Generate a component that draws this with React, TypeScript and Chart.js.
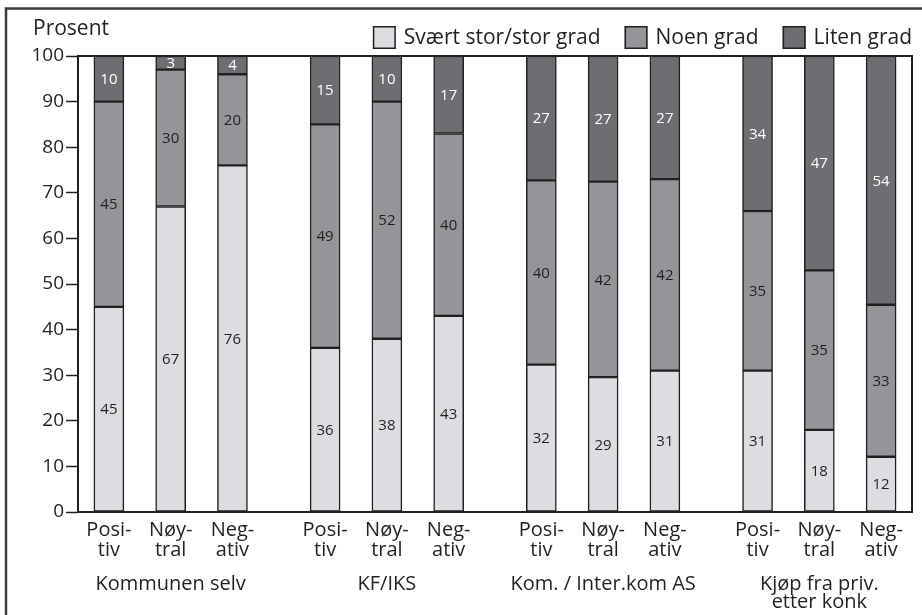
import React, { useEffect, useRef } from 'react';
import { Chart, registerables } from 'chart.js';

Chart.register(...registerables);

// ---------- data ----------
const groupLabels: (string | string[])[] = [
  'Kommunen selv',
  'KF/IKS',
  'Kom. / Inter.kom AS',
  ['Kjøp fra priv.', 'etter konk'],
];
const barLabels: string[][] = [
  ['Posi-', 'tiv'],
  ['Nøy-', 'tral'],
  ['Neg-', 'ativ'],
];
const seriesNames = ['Svært stor/stor grad', 'Noen grad', 'Liten grad'];
const storGrad = [45, 67, 76, 36, 38, 43, 32, 29, 31, 31, 18, 12];
const noenGrad = [45, 30, 20, 49, 52, 40, 40, 42, 42, 35, 35, 33];
const litenGrad = [10, 3, 4, 15, 10, 17, 27, 27, 27, 34, 47, 54];
const yTickValues = [0, 10, 20, 30, 40, 50, 60, 70, 80, 90, 100];
const yTitle = 'Prosent';

// ---------- styles ----------
const FONT = '"Open Sans", "Noto Sans", sans-serif';
const INK = '#231f20';
const COLORS = ['#dcdde0', '#939598', '#6d6e71'];
const LABEL_COLORS = [INK, INK, '#ffffff'];
const GROUP_STEP = 3.5;

const series = [storGrad, noenGrad, litenGrad];
const barsPerGroup = barLabels.length;
const barPositions: number[] = [];
groupLabels.forEach((_, g) => {
  for (let i = 0; i < barsPerGroup; i++) barPositions.push(g * GROUP_STEP + i);
});
const groupCenters = groupLabels.map((_, g) => g * GROUP_STEP + (barsPerGroup - 1) / 2);
const stackTotals = storGrad.map((_, i) => series.reduce((s, arr) => s + arr[i], 0));

const xMin = -0.5;
const xMax = barPositions[barPositions.length - 1] + 0.5;

const framePlugin = {
  id: 'frame',
  beforeDraw(chart: any) {
    const ctx = chart.ctx;
    ctx.save();
    ctx.strokeStyle = '#3a3a3a';
    ctx.lineWidth = 2.5;
    ctx.beginPath();
    ctx.moveTo(6, chart.height + 2);
    ctx.lineTo(6, 8.5);
    ctx.lineTo(chart.width + 2, 8.5);
    ctx.stroke();
    ctx.restore();
  },
  afterDatasetsDraw(chart: any) {
    const { ctx, chartArea } = chart;
    ctx.save();
    ctx.strokeStyle = INK;
    ctx.lineWidth = 2;
    ctx.beginPath();
    ctx.moveTo(chartArea.left, chartArea.top);
    ctx.lineTo(chartArea.right, chartArea.top);
    ctx.lineTo(chartArea.right, chartArea.bottom);
    ctx.stroke();
    ctx.restore();
  },
};

const valueLabelPlugin = {
  id: 'valueLabels',
  afterDatasetsDraw(chart: any) {
    const ctx = chart.ctx;
    ctx.save();
    ctx.font = `15px ${FONT}`;
    ctx.textAlign = 'center';
    ctx.textBaseline = 'middle';
    chart.data.datasets.forEach((ds: any, di: number) => {
      const meta = chart.getDatasetMeta(di);
      meta.data.forEach((el: any, i: number) => {
        const { x, y, base } = el.getProps(['x', 'y', 'base'], true);
        ctx.fillStyle = LABEL_COLORS[di];
        ctx.fillText(String(series[di][i]), x, (y + base) / 2 + 1);
      });
    });
    ctx.restore();
  },
};

const legendPlugin = {
  id: 'customLegend',
  afterDraw(chart: any) {
    const { ctx, chartArea } = chart;
    ctx.save();
    ctx.font = `21px ${FONT}`;
    ctx.textBaseline = 'middle';
    ctx.fillStyle = INK;
    ctx.textAlign = 'left';
    ctx.fillText(yTitle, 33, 29);
    const box = 23;
    const gap = 8;
    const spacing = 24;
    const cy = 37.5;
    const items = chart.data.datasets.map((ds: any) => ({
      text: ds.label,
      color: ds.backgroundColor,
      w: box + gap + ctx.measureText(ds.label).width,
    }));
    const total = items.reduce((s: number, it: any) => s + it.w, 0) + spacing * (items.length - 1);
    let x = chartArea.right - total;
    items.forEach((it: any) => {
      ctx.fillStyle = it.color;
      ctx.fillRect(x, cy - box / 2, box, box);
      ctx.strokeStyle = INK;
      ctx.lineWidth = 1.5;
      ctx.strokeRect(x + 0.75, cy - box / 2 + 0.75, box - 1.5, box - 1.5);
      ctx.fillStyle = INK;
      ctx.fillText(it.text, x + box + gap, cy + 1);
      x += it.w + spacing;
    });
    ctx.restore();
  },
};

export default function App() {
  const ref = useRef<HTMLCanvasElement | null>(null);
  useEffect(() => {
    document.body.style.margin = '0';
    if (!ref.current) return;
    const datasets = series.map((arr, di) => ({
      label: seriesNames[di],
      data: arr.map((v, i) => ({ x: barPositions[i], y: (v / stackTotals[i]) * 100 })),
      backgroundColor: COLORS[di],
      borderColor: INK,
      borderWidth: 1.5,
      borderSkipped: false,
      barThickness: 30,
      xAxisID: 'x',
      yAxisID: 'y',
    }));
    const chart = new Chart(ref.current, {
      type: 'bar',
      data: { datasets },
      options: {
        animation: false,
        responsive: false,
        devicePixelRatio: 1,
        layout: { padding: { top: 56, left: 0, right: 10, bottom: 0 } },
        plugins: {
          legend: { display: false },
          tooltip: { enabled: false },
        },
        scales: {
          x: {
            type: 'linear',
            position: 'bottom',
            stacked: true,
            offset: false,
            weight: 0,
            min: xMin,
            max: xMax,
            grid: { display: false, drawTicks: false, offset: false },
            border: { display: true, color: INK, width: 2 },
            afterBuildTicks: (axis: any) => {
              axis.ticks = barPositions.map((v) => ({ value: v }));
            },
            afterFit: (axis: any) => {
              axis.height = 56;
            },
            ticks: {
              autoSkip: false,
              maxRotation: 0,
              padding: 8,
              color: INK,
              font: { family: FONT, size: 20, lineHeight: 1.0 },
              callback: (_v: any, i: number) => barLabels[i % barsPerGroup],
            },
          },
          xg: {
            type: 'linear',
            position: 'bottom',
            offset: false,
            weight: 1,
            min: xMin,
            max: xMax,
            grid: { display: false, drawTicks: false, offset: false },
            border: { display: false },
            afterBuildTicks: (axis: any) => {
              axis.ticks = groupCenters.map((v) => ({ value: v }));
            },
            afterFit: (axis: any) => {
              axis.height = 47;
            },
            ticks: {
              autoSkip: false,
              maxRotation: 0,
              padding: 7,
              color: INK,
              font: { family: FONT, size: 20, lineHeight: 0.9 },
              callback: (_v: any, i: number) => groupLabels[i],
            },
          },
          y: {
            type: 'linear',
            stacked: true,
            min: 0,
            max: 100,
            afterBuildTicks: (axis: any) => {
              axis.ticks = yTickValues.map((v) => ({ value: v }));
            },
            afterFit: (axis: any) => {
              axis.width = 78;
            },
            grid: {
              drawOnChartArea: false,
              drawTicks: true,
              tickLength: 12,
              tickColor: INK,
              tickWidth: 1.5,
            },
            border: { display: true, color: INK, width: 2 },
            ticks: {
              padding: 2,
              color: INK,
              font: { family: FONT, size: 19 },
            },
          },
        },
      },
      plugins: [framePlugin, valueLabelPlugin, legendPlugin],
    } as any);
    return () => chart.destroy();
  }, []);
  return (
    <div style={{ width: 922, height: 615, position: 'relative' }}>
      <canvas ref={ref} width={922} height={615} style={{ display: 'block' }} />
    </div>
  );
}
